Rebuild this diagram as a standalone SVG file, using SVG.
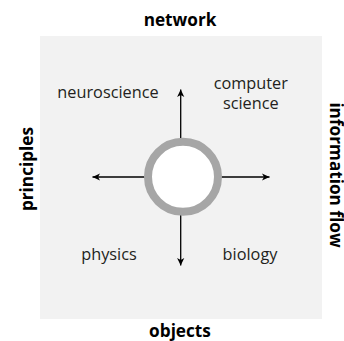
<svg xmlns="http://www.w3.org/2000/svg" width="344" height="341" viewBox="0 0 344 341">
  <style>
    .lbl { font-family: "Open Sans", "Noto Sans", sans-serif; font-size: 16.3px; fill: #231f20; text-anchor: middle; }
    .ax { font-family: "Open Sans", "Noto Sans", sans-serif; font-size: 17.2px; font-weight: bold; fill: #000; text-anchor: middle; }
    .conn { stroke: #000; stroke-width: 1.3; fill: none; marker-end: url(#ah); }
  </style>
  <defs>
    <marker id="ah" viewBox="-8 -4 9 8" refX="0" refY="0" markerWidth="9" markerHeight="8" markerUnits="userSpaceOnUse" orient="auto">
      <path d="M0,0 L-7.5,-3.6 L-5.5,0 L-7.5,3.6 Z" fill="#000"/>
    </marker>
  </defs>
  <rect x="0" y="0" width="344" height="341" fill="#fff"/>
  <rect id="panel" x="40" y="36" width="282" height="283" fill="#f2f2f2"/>
  <g id="connectors">
    <line class="conn" x1="180.7" y1="177" x2="180.7" y2="89.5"/>
    <line class="conn" x1="180.7" y1="177" x2="180.7" y2="265.5"/>
    <line class="conn" x1="181" y1="177" x2="92.5" y2="177"/>
    <line class="conn" x1="181" y1="177" x2="269.5" y2="177"/>
  </g>
  <g id="hub">
    <circle cx="183" cy="176.8" r="35" fill="#fff" stroke="#a6a6a6" stroke-width="8"/>
  </g>
  <g id="neuroscience"><text class="lbl" x="108" y="97.7">neuroscience</text></g>
  <g id="computer-science">
    <text class="lbl" x="250.8" y="89">computer</text>
    <text class="lbl" x="250.8" y="109.3">science</text>
  </g>
  <g id="physics"><text class="lbl" x="109" y="260">physics</text></g>
  <g id="biology"><text class="lbl" x="250" y="260">biology</text></g>
  <g id="network"><text class="ax" x="180" y="26">network</text></g>
  <g id="objects"><text class="ax" x="180" y="336.5">objects</text></g>
  <g id="principles"><text class="ax" transform="translate(33.3,169) rotate(-90)" x="0" y="0">principles</text></g>
  <g id="information-flow"><text class="ax" transform="translate(329.5,175) rotate(90)" x="0" y="0">information flow</text></g>
</svg>
